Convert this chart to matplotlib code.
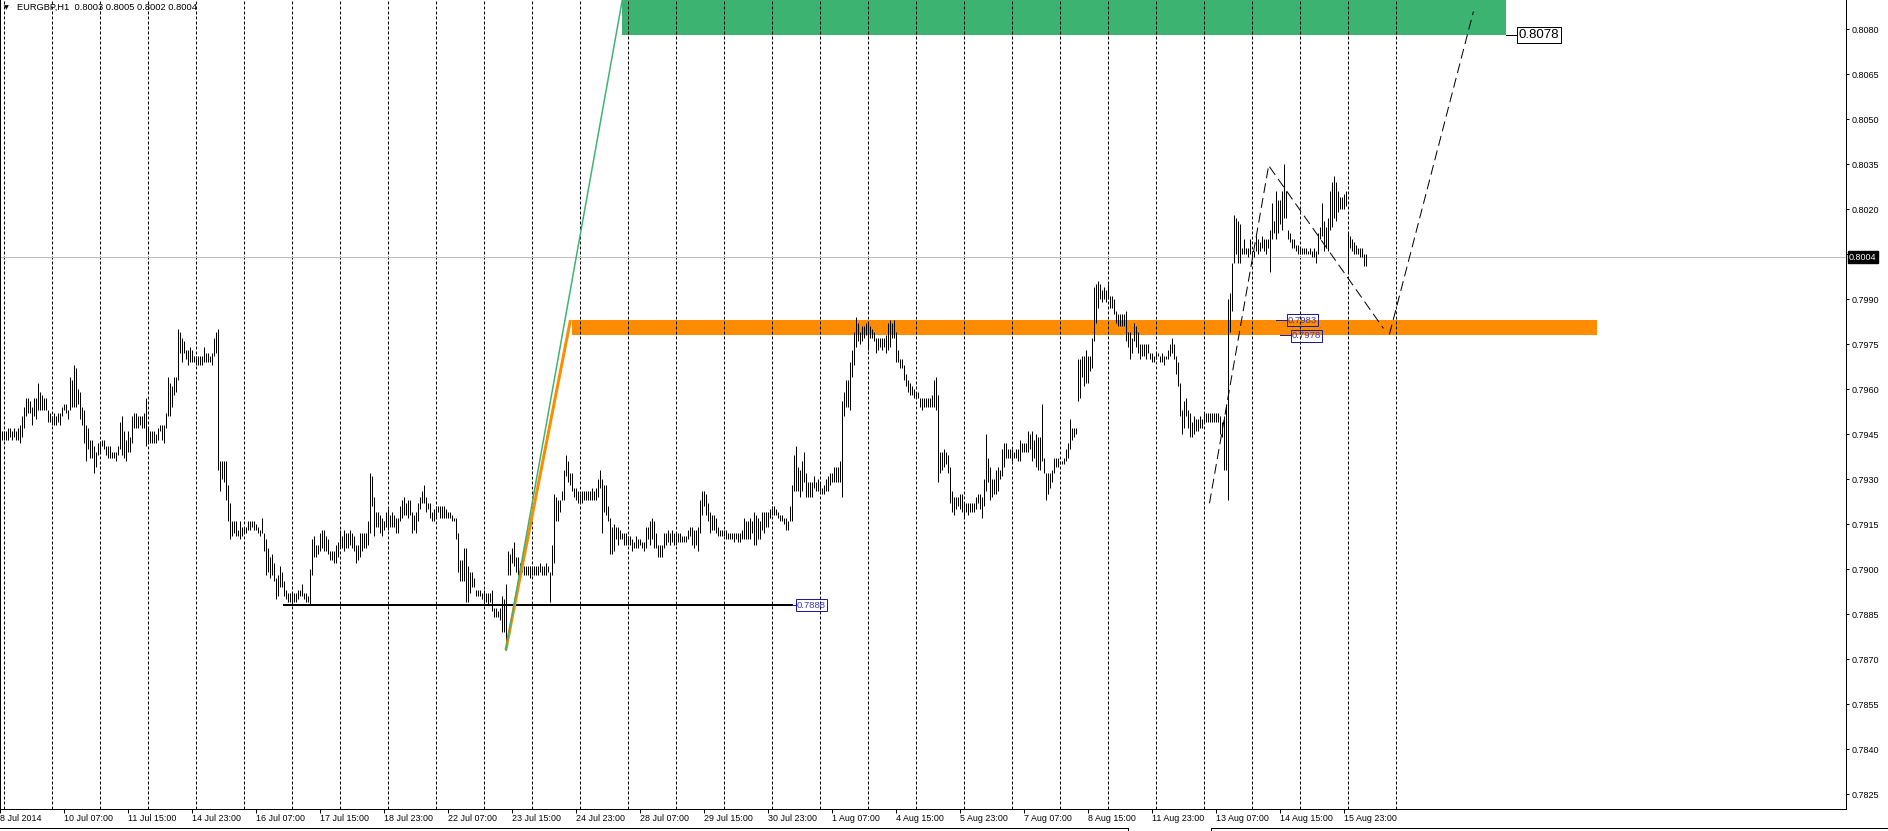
import numpy as np
import matplotlib.pyplot as plt
from matplotlib.patches import Rectangle

plt.rcParams['font.family'] = ['Liberation Sans', 'DejaVu Sans']

# EURGBP H1 bars, in units of 0.0001 (7946 -> 0.7946)
highs = [
    7946, 7946, 7946, 7947, 7947, 7946, 7947, 7946, 7947, 7948,
    7951, 7954, 7957, 7957, 7956, 7954, 7957, 7957, 7962, 7959,
    7958, 7957, 7957, 7953, 7952, 7951, 7952, 7951, 7952, 7952,
    7954, 7955, 7955, 7953, 7964, 7963, 7968, 7967, 7960, 7959,
    7954, 7953, 7948, 7947, 7943, 7943, 7941, 7939, 7942, 7942,
    7943, 7943, 7941, 7941, 7941, 7939, 7939, 7939, 7941, 7949,
    7951, 7946, 7943, 7946, 7944, 7951, 7952, 7952, 7951, 7951,
    7951, 7952, 7957, 7947, 7946, 7946, 7946, 7945, 7947, 7948,
    7948, 7948, 7952, 7964, 7962, 7961, 7964, 7964, 7980, 7979,
    7977, 7976, 7973, 7973, 7974, 7973, 7971, 7971, 7971, 7971,
    7971, 7974, 7972, 7972, 7971, 7972, 7977, 7979, 7980, 7936,
    7936, 7936, 7936, 7928, 7922, 7916, 7916, 7916, 7913, 7916,
    7914, 7914, 7914, 7916, 7916, 7916, 7916, 7915, 7914, 7913,
    7917, 7912, 7910, 7907, 7904, 7905, 7902, 7897, 7898, 7901,
    7899, 7896, 7893, 7892, 7892, 7892, 7892, 7892, 7893, 7893,
    7895, 7892, 7892, 7891, 7900, 7910, 7911, 7908, 7908, 7912,
    7913, 7913, 7911, 7910, 7906, 7906, 7906, 7908, 7909, 7913,
    7911, 7913, 7912, 7912, 7913, 7912, 7911, 7908, 7908, 7912,
    7912, 7912, 7912, 7916, 7932, 7931, 7924, 7919, 7919, 7918,
    7917, 7916, 7919, 7920, 7918, 7919, 7918, 7917, 7917, 7921,
    7923, 7924, 7922, 7923, 7923, 7919, 7918, 7919, 7922, 7924,
    7926, 7928, 7924, 7922, 7922, 7919, 7920, 7921, 7921, 7921,
    7921, 7921, 7920, 7919, 7919, 7918, 7917, 7917, 7912, 7903,
    7903, 7907, 7907, 7901, 7899, 7899, 7897, 7893, 7893, 7893,
    7892, 7893, 7892, 7892, 7892, 7893, 7887, 7887, 7886, 7887,
    7891, 7890, 7895, 7906, 7905, 7907, 7909, 7904, 7904, 7902,
    7903, 7901, 7901, 7901, 7901, 7901, 7901, 7901, 7901, 7902,
    7901, 7901, 7902, 7901, 7899, 7908, 7925, 7924, 7923, 7923,
    7926, 7933, 7938, 7936, 7932, 7932, 7927, 7927, 7926, 7925,
    7926, 7926, 7926, 7926, 7926, 7927, 7926, 7927, 7930, 7933,
    7930, 7928, 7928, 7921, 7917, 7914, 7915, 7914, 7914, 7913,
    7912, 7912, 7912, 7911, 7911, 7910, 7909, 7911, 7910, 7910,
    7909, 7909, 7914, 7914, 7916, 7917, 7916, 7912, 7908, 7908,
    7908, 7912, 7912, 7913, 7912, 7913, 7912, 7912, 7912, 7912,
    7911, 7911, 7911, 7913, 7914, 7914, 7913, 7913, 7914, 7923,
    7926, 7926, 7925, 7922, 7919, 7918, 7918, 7917, 7914, 7913,
    7913, 7913, 7913, 7912, 7912, 7912, 7912, 7912, 7912, 7912,
    7913, 7917, 7916, 7916, 7917, 7916, 7919, 7918, 7917, 7916,
    7919, 7919, 7919, 7919, 7920, 7921, 7921, 7920, 7919, 7918,
    7918, 7917, 7917, 7916, 7921, 7928, 7938, 7941, 7934, 7933,
    7936, 7939, 7932, 7929, 7929, 7929, 7931, 7929, 7930, 7929,
    7927, 7928, 7930, 7931, 7932, 7932, 7934, 7934, 7934, 7936,
    7956, 7959, 7963, 7963, 7969, 7973, 7979, 7984, 7982, 7979,
    7981, 7981, 7982, 7982, 7981, 7980, 7979, 7977, 7977, 7977,
    7977, 7977, 7978, 7982, 7983, 7982, 7983, 7979, 7973, 7970,
    7970, 7968, 7965, 7963, 7962, 7961, 7960, 7959, 7959, 7957,
    7957, 7957, 7957, 7957, 7957, 7958, 7963, 7964, 7958, 7939,
    7939, 7940, 7939, 7938, 7934, 7926, 7924, 7924, 7924, 7925,
    7925, 7922, 7922, 7922, 7922, 7922, 7922, 7924, 7925, 7925,
    7924, 7930, 7945, 7937, 7934, 7930, 7930, 7933, 7934, 7933,
    7940, 7942, 7942, 7940, 7940, 7940, 7939, 7940, 7940, 7943,
    7942, 7942, 7942, 7946, 7945, 7946, 7943, 7945, 7944, 7944,
    7955, 7937, 7932, 7932, 7932, 7933, 7937, 7937, 7937, 7936,
    7936, 7937, 7940, 7942, 7950, 7947, 7947, 7947, 7970, 7970,
    7971, 7971, 7973, 7971, 7971, 7977, 7994, 7995, 7996, 7995,
    7993, 7994, 7993, 7995, 7991, 7991, 7990, 7986, 7985, 7985,
    7985, 7985, 7986, 7979, 7979, 7977, 7982, 7981, 7979, 7975,
    7975, 7975, 7975, 7975, 7972, 7972, 7971, 7972, 7972, 7971,
    7972, 7971, 7971, 7973, 7975, 7977, 7975, 7971, 7969, 7962,
    7953, 7956, 7957, 7953, 7952, 7949, 7951, 7950, 7950, 7951,
    7950, 7952, 7952, 7952, 7952, 7952, 7952, 7952, 7952, 7951,
    7949, 7951, 7955, 7990, 7992, 8002, 8018, 8017, 8016, 8015,
    8007, 8010, 8007, 8007, 8010, 8006, 8006, 8011, 8010, 8009,
    8011, 8010, 8010, 8010, 8013, 8022, 8016, 8026, 8023, 8023,
    8026, 8035, 8026, 8013, 8012, 8010, 8010, 8008, 8008, 8007,
    8007, 8007, 8007, 8006, 8007, 8006, 8007, 8006, 8012, 8014,
    8022, 8016, 8014, 8017, 8026, 8029, 8031, 8029, 8026, 8024,
    8024, 8025, 8026, 8012, 8011, 8010, 8009, 8008, 8007, 8007,
    8007, 8005, 8005,
]
lows = [
    7943, 7943, 7943, 7943, 7944, 7943, 7944, 7943, 7943, 7942,
    7944, 7947, 7951, 7952, 7952, 7948, 7951, 7950, 7953, 7953,
    7953, 7953, 7953, 7949, 7949, 7948, 7948, 7948, 7949, 7948,
    7951, 7953, 7952, 7950, 7953, 7954, 7954, 7954, 7955, 7950,
    7948, 7942, 7936, 7940, 7937, 7937, 7932, 7934, 7938, 7939,
    7941, 7940, 7938, 7937, 7937, 7937, 7937, 7936, 7938, 7940,
    7938, 7937, 7936, 7939, 7939, 7942, 7947, 7947, 7947, 7948,
    7947, 7947, 7941, 7942, 7942, 7942, 7942, 7942, 7943, 7946,
    7943, 7942, 7947, 7951, 7951, 7954, 7958, 7959, 7963, 7972,
    7969, 7972, 7970, 7968, 7969, 7969, 7969, 7968, 7968, 7968,
    7968, 7969, 7969, 7969, 7969, 7968, 7971, 7972, 7933, 7926,
    7930, 7929, 7923, 7916, 7910, 7911, 7912, 7911, 7911, 7910,
    7911, 7912, 7912, 7913, 7913, 7914, 7913, 7913, 7912, 7911,
    7912, 7906, 7898, 7899, 7897, 7898, 7896, 7890, 7891, 7894,
    7894, 7891, 7890, 7889, 7889, 7889, 7889, 7889, 7890, 7891,
    7891, 7890, 7889, 7889, 7888, 7898, 7904, 7904, 7905, 7906,
    7907, 7906, 7906, 7905, 7903, 7903, 7902, 7902, 7904, 7907,
    7907, 7906, 7907, 7907, 7908, 7907, 7906, 7902, 7903, 7904,
    7906, 7907, 7907, 7908, 7912, 7921, 7911, 7914, 7914, 7912,
    7911, 7913, 7914, 7913, 7914, 7914, 7914, 7912, 7912, 7916,
    7917, 7918, 7918, 7917, 7918, 7912, 7913, 7912, 7916, 7920,
    7922, 7922, 7919, 7920, 7917, 7916, 7916, 7917, 7919, 7917,
    7917, 7917, 7917, 7917, 7917, 7916, 7916, 7910, 7899, 7896,
    7896, 7896, 7889, 7889, 7892, 7894, 7894, 7891, 7891, 7891,
    7890, 7888, 7889, 7888, 7889, 7886, 7884, 7884, 7884, 7883,
    7879, 7879, 7873, 7898, 7898, 7902, 7901, 7899, 7898, 7898,
    7899, 7898, 7898, 7898, 7897, 7898, 7898, 7898, 7898, 7899,
    7898, 7898, 7898, 7899, 7889, 7898, 7902, 7916, 7916, 7919,
    7923, 7923, 7931, 7929, 7928, 7926, 7924, 7923, 7922, 7922,
    7922, 7923, 7923, 7923, 7923, 7923, 7923, 7923, 7924, 7927,
    7912, 7919, 7918, 7916, 7905, 7905, 7906, 7910, 7908, 7910,
    7910, 7908, 7908, 7908, 7908, 7906, 7907, 7907, 7907, 7908,
    7907, 7906, 7907, 7910, 7908, 7910, 7907, 7907, 7904, 7904,
    7904, 7907, 7908, 7909, 7908, 7909, 7908, 7908, 7909, 7909,
    7909, 7909, 7909, 7910, 7911, 7908, 7907, 7908, 7906, 7912,
    7918, 7921, 7918, 7916, 7912, 7913, 7913, 7912, 7911, 7911,
    7911, 7911, 7910, 7910, 7910, 7910, 7909, 7910, 7909, 7909,
    7910, 7910, 7910, 7910, 7910, 7912, 7908, 7908, 7910, 7910,
    7913, 7912, 7914, 7914, 7917, 7918, 7918, 7918, 7917, 7916,
    7916, 7915, 7913, 7913, 7916, 7916, 7926, 7926, 7926, 7924,
    7926, 7929, 7924, 7924, 7924, 7924, 7927, 7926, 7926, 7926,
    7925, 7925, 7926, 7926, 7928, 7929, 7929, 7929, 7929, 7929,
    7924, 7951, 7954, 7954, 7953, 7964, 7968, 7974, 7976, 7975,
    7976, 7977, 7978, 7973, 7977, 7977, 7976, 7972, 7973, 7974,
    7973, 7974, 7972, 7973, 7974, 7977, 7977, 7969, 7969, 7967,
    7967, 7963, 7961, 7959, 7958, 7958, 7957, 7957, 7957, 7954,
    7953, 7954, 7954, 7954, 7954, 7954, 7954, 7953, 7929, 7932,
    7933, 7934, 7935, 7932, 7922, 7919, 7918, 7920, 7921, 7920,
    7919, 7917, 7919, 7918, 7919, 7919, 7919, 7920, 7922, 7920,
    7917, 7921, 7926, 7929, 7923, 7924, 7925, 7925, 7926, 7930,
    7931, 7934, 7937, 7937, 7937, 7936, 7937, 7937, 7936, 7936,
    7939, 7939, 7939, 7939, 7940, 7936, 7937, 7934, 7933, 7933,
    7936, 7932, 7923, 7925, 7927, 7929, 7932, 7934, 7934, 7935,
    7935, 7935, 7936, 7937, 7940, 7943, 7944, 7945, 7956, 7957,
    7964, 7961, 7962, 7962, 7966, 7967, 7976, 7982, 7987, 7990,
    7989, 7990, 7989, 7990, 7987, 7987, 7985, 7982, 7981, 7981,
    7981, 7981, 7976, 7974, 7970, 7972, 7976, 7974, 7972, 7970,
    7971, 7971, 7970, 7972, 7970, 7969, 7969, 7970, 7971, 7969,
    7969, 7968, 7970, 7970, 7971, 7972, 7970, 7965, 7961, 7951,
    7945, 7947, 7951, 7947, 7944, 7944, 7945, 7946, 7946, 7947,
    7947, 7949, 7949, 7949, 7949, 7949, 7949, 7949, 7949, 7945,
    7944, 7933, 7933, 7923, 7979, 7986, 8002, 8005, 8002, 8002,
    8005, 8005, 8005, 8004, 8005, 8004, 8004, 8006, 8005, 8006,
    8007, 8006, 8005, 8007, 7999, 8010, 8012, 8010, 8012, 8015,
    8013, 8017, 8017, 8010, 8009, 8007, 8007, 8006, 8005, 8005,
    8005, 8005, 8005, 8005, 8005, 8004, 8004, 8002, 8005, 8010,
    8011, 8006, 8007, 8006, 8013, 8014, 8017, 8016, 8019, 8020,
    8020, 8020, 8021, 7999, 8007, 8006, 8005, 8005, 8005, 8004,
    8004, 8001, 8001,
]

time_labels = ['8 Jul 2014', '10 Jul 07:00', '11 Jul 15:00', '14 Jul 23:00',
               '16 Jul 07:00', '17 Jul 15:00', '18 Jul 23:00', '22 Jul 07:00',
               '23 Jul 15:00', '24 Jul 23:00', '28 Jul 07:00', '29 Jul 15:00',
               '30 Jul 23:00', '1 Aug 07:00', '4 Aug 15:00', '5 Aug 23:00',
               '7 Aug 07:00', '8 Aug 15:00', '11 Aug 23:00', '13 Aug 07:00',
               '14 Aug 15:00', '15 Aug 23:00']
price_ticks = np.arange(7825, 8081, 15) / 10000

header = 'EURGBP,H1  0.8003 0.8005 0.8002 0.8004'
bid = 0.8004
support = 0.7888
orange_zone = (0.7978, 0.7983)
green_zone_low = 0.8078
swing_low = 0.7873

high = np.array(highs) / 10000
low = np.array(lows) / 10000
idx = np.arange(len(high))

W, H = 1888, 831
fig = plt.figure(figsize=(W / 100, H / 100), dpi=100)
ax = fig.add_axes([0, 22 / H, 1846 / W, 809 / H])
ax.set_xlim(-0.75, 922.25)
ax.set_ylim(0.782, 0.808967)

px = 0.72  # one pixel in points

# zones
ax.add_patch(Rectangle((285.3, orange_zone[0]), 797.8 - 285.3, orange_zone[1] - orange_zone[0],
                       facecolor='#FF8C00', edgecolor='none', zorder=1))
ax.add_patch(Rectangle((310.3, green_zone_low), 752.3 - 310.3, 0.0030,
                       facecolor='#3CB371', edgecolor='none', zorder=1))

# day separators, only where there are bars
for k in range(-1, 29):
    ax.axvline(25.1 + 24 * k, color='black', lw=px, ls=(0, (3, 2)), zorder=2)
ax.axhline(bid, color='#C0C0C0', lw=px, zorder=2)

# bars
ax.vlines(idx, low, high, color='black', lw=px, zorder=3)

# support line
ax.plot([140.8, 395.3], [support, support], color='black', lw=2 * px, zorder=4)
ax.plot([395.3, 396.9], [support, support], color='#2020A0', lw=px, zorder=4)

# trend lines from the swing low
ax.plot([252, 284.3], [swing_low, orange_zone[1]], color='#FF8C00', lw=3 * px,
        zorder=4, solid_capstyle='butt')
ax.plot([252, 313.0], [swing_low, 0.8100], color='#3CB371', lw=1.5 * px, zorder=4)

# projected path
dash = (0, (10, 5))
ax.plot([603.9, 633.4], [0.79219, 0.80341], color='black', lw=px, ls=dash, zorder=4)
ax.plot([633.9, 690.9], [0.80341, 0.79802], color='black', lw=px, ls=dash, zorder=4)
ax.plot([693.9, 735.9], [0.79782, 0.80858], color='black', lw=px, ls=dash, zorder=4)

# price labels
lab_kw = dict(ha='left', va='center', fontsize=6.8, color='#3A3AB8', zorder=6,
              bbox=dict(boxstyle='square,pad=0.12', fc='none', ec='#1C1CA0', lw=px))
ax.plot([637.3, 642.3], [orange_zone[1], orange_zone[1]], color='#2020A0', lw=px, zorder=5)
ax.plot([639.3, 644.3], [orange_zone[0], orange_zone[0]], color='#2020A0', lw=px, zorder=5)
ax.text(643.0, orange_zone[1], f'{orange_zone[1]:.4f}', **lab_kw)
ax.text(645.0, orange_zone[0] - 0.00003, f'{orange_zone[0]:.4f}', **lab_kw)
ax.text(397.6, support, f'{support:.4f}', **lab_kw)

ax.plot([752.3, 757.4], [green_zone_low, green_zone_low], color='black', lw=px, zorder=5)
ax.text(758.6, green_zone_low, f'{green_zone_low:.4f}', ha='left', va='center',
        fontsize=9.5, color='black', zorder=6,
        bbox=dict(boxstyle='square,pad=0.12', fc='white', ec='black', lw=px))

# axes look
ax.spines['top'].set_visible(False)
for s in ['left', 'right', 'bottom']:
    ax.spines[s].set_linewidth(px)
ax.yaxis.tick_right()
ax.set_yticks(price_ticks)
ax.set_yticklabels([f'{p:.4f}' for p in price_ticks])
ax.tick_params(axis='y', length=3 * px, width=px, pad=2, labelsize=6.5)
ax.set_xticks([32 * k - 1 for k in range(len(time_labels))])
ax.set_xticklabels(time_labels, ha='left')
ax.tick_params(axis='x', length=4 * px, width=px, pad=1, labelsize=6.4)

# current bid marker on the price scale
fig.text(1849 / W, 1 - 257 / H, f'{bid:.4f}', ha='left', va='center', fontsize=6.5,
         color='white', bbox=dict(boxstyle='square,pad=0.15', fc='black', ec='black'))

# header
fig.text(3.5 / W, 1 - 8 / H, '\u25bc', fontsize=4.5, ha='left', va='center',
         family='DejaVu Sans')
fig.text(16.7 / W, 1 - 7.5 / H, header, fontsize=6.7, ha='left', va='center')

# tab strip at the bottom
y_tab = 1 - 828 / H
fig.add_artist(plt.Line2D([0, 1128 / W], [y_tab, y_tab], color='black', lw=px))
fig.add_artist(plt.Line2D([1211 / W, 1], [y_tab, y_tab], color='black', lw=px))
fig.add_artist(plt.Line2D([1128 / W, 1128 / W], [0, y_tab], color='black', lw=px))
fig.add_artist(plt.Line2D([1211 / W, 1211 / W], [0, y_tab], color='black', lw=px))

fig.savefig('out.png', dpi=100, facecolor='white')
